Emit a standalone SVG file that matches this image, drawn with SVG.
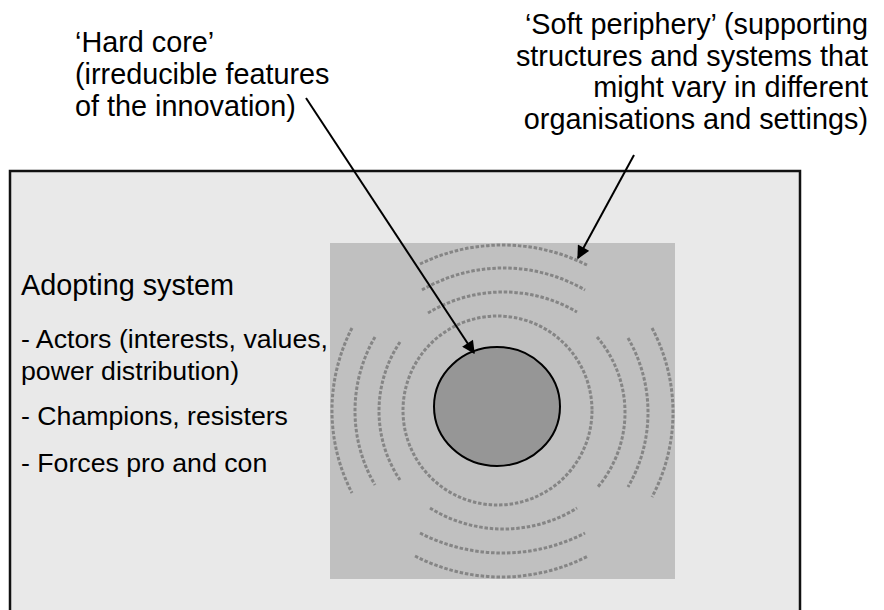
<svg xmlns="http://www.w3.org/2000/svg" width="884" height="610" viewBox="0 0 884 610">
<defs>
<style>
text{font-family:"Liberation Sans",Arial,sans-serif;font-size:26.7px;fill:#000}
.big{font-size:28.8px}
.ring{fill:none;stroke:#858585;stroke-width:3;stroke-dasharray:3.5 1.8}
.conn{stroke:#000;stroke-width:2;fill:none;marker-end:url(#ah)}
</style>
<marker id="ah" viewBox="0 0 10 10" refX="9" refY="5" markerWidth="7" markerHeight="6.5" markerUnits="strokeWidth" orient="auto">
<path d="M0,0 L10,5 L0,10 z" fill="#000"/>
</marker>
</defs>
<rect width="884" height="610" fill="#fff"/>
<g id="adopting-system">
<rect x="10" y="171" width="790" height="460" fill="#e9e9e9" stroke="#111" stroke-width="2.5"/>
<text class="big" x="21" y="295">Adopting system</text>
<text x="21" y="348">- Actors (interests, values,</text>
<text x="21" y="380">power distribution)</text>
<text x="21" y="425">- Champions, resisters</text>
<text x="21" y="472">- Forces pro and con</text>
</g>
<g id="soft-periphery">
<rect x="330" y="243" width="345" height="336" fill="#c0c0c0"/>
<ellipse class="ring" cx="497.5" cy="410.5" rx="94.5" ry="94.5"/>
<path class="ring" d="M428,313 A145.6,145.6 0 0 1 577,312"/>
<path class="ring" d="M422,290 A162,162 0 0 1 585,290"/>
<path class="ring" d="M420,264 A188.5,188.5 0 0 1 587,265"/>
<path class="ring" d="M430,508 A139,139 0 0 0 577,508"/>
<path class="ring" d="M420,533 A180,180 0 0 0 585,533"/>
<path class="ring" d="M415,556 A188.6,188.6 0 0 0 588,556"/>
<path class="ring" d="M400,342 A123.9,123.9 0 0 0 400,480"/>
<path class="ring" d="M375,337 A146.9,146.9 0 0 0 375,485"/>
<path class="ring" d="M352,328 A180,180 0 0 0 352,493"/>
<path class="ring" d="M597,337 A115.8,115.8 0 0 1 597,488"/>
<path class="ring" d="M628,338 A148.8,148.8 0 0 1 628,487"/>
<path class="ring" d="M652,328 A180.5,180.5 0 0 1 652,497"/>
</g>
<g id="hard-core">
<ellipse cx="497" cy="406.5" rx="63" ry="59.5" fill="#969696" stroke="#000" stroke-width="2"/>
</g>
<g id="label-hard-core" class="big">
<text class="big" x="75" y="52">‘Hard core’</text>
<text class="big" x="75" y="84">(irreducible features</text>
<text class="big" x="75" y="116">of the innovation)</text>
</g>
<g id="label-soft-periphery" text-anchor="end">
<text class="big" x="868" y="34">‘Soft periphery’ (supporting</text>
<text class="big" x="868" y="66">structures and systems that</text>
<text class="big" x="868" y="97">might vary in different</text>
<text class="big" x="868" y="129">organisations and settings)</text>
</g>
<g id="connectors">
<line class="conn" x1="306" y1="98" x2="474" y2="353"/>
<line class="conn" x1="634" y1="155" x2="578" y2="258"/>
</g>
</svg>
